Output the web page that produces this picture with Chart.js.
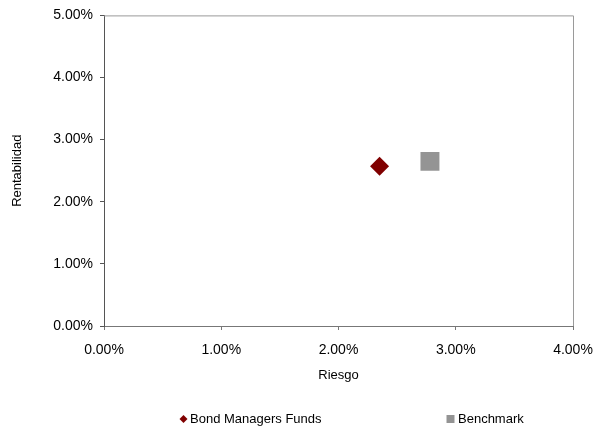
<!DOCTYPE html>
<html>
<head>
<meta charset="utf-8">
<script src="https://cdn.jsdelivr.net/npm/chart.js@4.4.0/dist/chart.umd.min.js"></script>
<style>
  html, body { margin: 0; padding: 0; background: #fff; }
  #wrap { width: 608px; height: 430px; }
</style>
</head>
<body>
<div id="wrap"><canvas id="riskChart" width="608" height="430"></canvas></div>
<script>
// Risk / return values (in %)
const seriesNames = ['Bond Managers Funds', 'Benchmark'];
const riskValues = [2.35, 2.78];
const returnValues = [2.57, 2.65];
const seriesColors = ['#800000', '#949494'];
const seriesShapes = ['rectRot', 'rect'];
const seriesRadius = [9.5, 13.4];

const xTicks = [0, 1, 2, 3, 4];
const yTicks = [0, 1, 2, 3, 4, 5];

const FONT = 'Liberation Sans, Arial, sans-serif';

// plot frame (top + right edges)
const framePlugin = {
  id: 'frame',
  beforeDatasetsDraw(chart) {
    const { ctx, chartArea } = chart;
    ctx.save();
    ctx.strokeStyle = '#9a9a9a';
    ctx.lineWidth = 1;
    ctx.beginPath();
    ctx.moveTo(chartArea.left, chartArea.top + 0.5);
    ctx.lineTo(chartArea.right + 0.5, chartArea.top + 0.5);
    ctx.lineTo(chartArea.right + 0.5, chartArea.bottom);
    ctx.stroke();
    ctx.restore();
  }
};

// legend under the chart, items spread like the original
const legendPlugin = {
  id: 'bottomLegend',
  afterDraw(chart) {
    const { ctx } = chart;
    const y = 419;
    const markerX = [183.5, 450.5];
    ctx.save();
    ctx.font = '13px ' + FONT;
    ctx.textBaseline = 'middle';
    ctx.textAlign = 'left';
    chart.data.datasets.forEach(function(ds, i) {
      ctx.fillStyle = ds.backgroundColor;
      ctx.beginPath();
      if (ds.pointStyle === 'rectRot') {
        ctx.moveTo(markerX[i], y - 4);
        ctx.lineTo(markerX[i] + 4, y);
        ctx.lineTo(markerX[i], y + 4);
        ctx.lineTo(markerX[i] - 4, y);
        ctx.closePath();
      } else {
        ctx.rect(markerX[i] - 4, y - 4, 8, 8);
      }
      ctx.fill();
      ctx.fillStyle = '#000';
      ctx.fillText(ds.label, markerX[i] + (i === 0 ? 6.5 : 7.5), y);
    });
    ctx.restore();
  }
};

const datasets = seriesNames.map(function(name, i) {
  return {
    label: name,
    data: [{ x: riskValues[i], y: returnValues[i] }],
    backgroundColor: seriesColors[i],
    borderColor: seriesColors[i],
    borderWidth: 0,
    pointStyle: seriesShapes[i],
    pointRadius: seriesRadius[i],
    pointHoverRadius: seriesRadius[i]
  };
});

new Chart(document.getElementById('riskChart'), {
  type: 'scatter',
  data: { datasets: datasets },
  options: {
    responsive: false,
    animation: false,
    events: [],
    layout: { padding: { left: 0, top: 13, right: 35, bottom: 44 } },
    plugins: {
      legend: { display: false },
      tooltip: { enabled: false }
    },
    scales: {
      x: {
        type: 'linear',
        min: xTicks[0],
        max: xTicks[xTicks.length - 1],
        afterBuildTicks(scale) { scale.ticks = xTicks.map(v => ({ value: v })); },
        afterFit(scale) { scale.height = 60; },
        grid: { drawOnChartArea: false, drawTicks: true, tickLength: 4, color: '#777' },
        border: { color: '#777', width: 1 },
        ticks: {
          padding: 12,
          color: '#000',
          font: { family: FONT, size: 14 },
          maxRotation: 0,
          callback: v => v.toFixed(2) + '%'
        },
        title: {
          display: true,
          text: 'Riesgo',
          color: '#000',
          font: { family: FONT, size: 13 },
          padding: { top: 0, bottom: 3 }
        }
      },
      y: {
        type: 'linear',
        min: yTicks[0],
        max: yTicks[yTicks.length - 1],
        afterBuildTicks(scale) { scale.ticks = yTicks.map(v => ({ value: v })); },
        afterFit(scale) { scale.width = 104; },
        grid: { drawOnChartArea: false, drawTicks: true, tickLength: 4, color: '#555' },
        border: { color: '#555', width: 1 },
        ticks: {
          padding: 7,
          color: '#000',
          font: { family: FONT, size: 14 },
          callback: v => v.toFixed(2) + '%'
        },
        title: {
          display: true,
          text: 'Rentabilidad',
          color: '#000',
          font: { family: FONT, size: 13 },
          padding: { top: 10, bottom: 0 }
        }
      }
    }
  },
  plugins: [framePlugin, legendPlugin]
});
</script>
</body>
</html>
